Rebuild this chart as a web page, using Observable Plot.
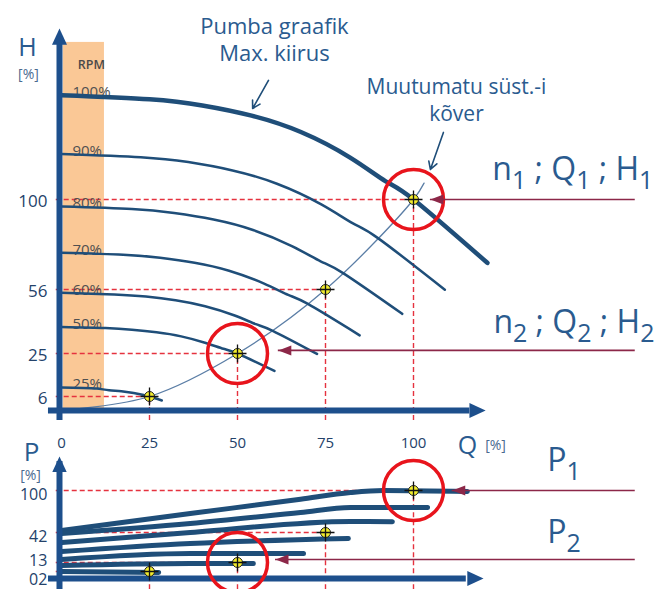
<!DOCTYPE html>
<html><head><meta charset="utf-8">
<script src="https://cdn.jsdelivr.net/npm/d3@7"></script>
<script src="https://cdn.jsdelivr.net/npm/@observablehq/plot@0.6"></script>
<style>
html,body{margin:0;padding:0;background:#fff;}
#chart{position:relative;width:657px;height:589px;overflow:hidden;background:#fff;}
#chart svg{position:absolute;left:0;top:0;}
</style></head><body><div id="chart"></div>
<script>
// ---- data ----
const qTicks = [0, 25, 50, 75, 100];
const hTicks = [100, 56, 25, 6];
const pTicks = [100, 42, 13, 2];
const pTickLabels = ["100", "42", "13", "02"];
const opQ = [25, 50, 75, 100];
const opH = [6, 25, 56, 100];
const opP = [2, 13, 42, 100];
const rpmLabels = ["100%", "90%", "80%", "70%", "60%", "50%", "25%"];
// head curves [Q, H]
const headMax = [[0,151],[25,149],[40,146],[54,141],[68,133],[82,120.5],[92,109],[100,100],[121,69]];
const head90 = [[0,122.3],[22.5,120.7],[36,118.3],[48.6,114.2],[61.2,107.7],[73.8,97.6],[82.8,88.3],[90,81],[108.9,55.9]];
const head80 = [[0,96.6],[20,95.4],[32,93.4],[43.2,90.2],[54.4,85.1],[65.6,77.1],[73.6,69.8],[80,64],[96.8,44.2]];
const head70 = [[0,74],[17.5,73],[28,71.5],[37.8,69.1],[47.6,65.2],[57.4,59],[64.4,53.4],[70,49],[84.7,33.8]];
const head60 = [[0,54.4],[15,53.6],[24,52.6],[32.4,50.8],[40.8,47.9],[49.2,43.4],[55.2,39.2],[60,36],[72.6,24.8]];
const head50 = [[0,37.8],[12.5,37.3],[20,36.5],[27,35.25],[34,33.3],[41,30.1],[46,27.3],[50,25],[60.5,17.3]];
const head25 = [[0,10],[6.25,9.8],[10,9.5],[13.5,8.8],[17,8.3],[20.5,7.5],[23,6.8],[25,6],[28.5,4.3]];
const systemCurve = [[0,0],[25,6],[50,25],[75,56],[100,100],[103,108]];
// power curves [Q, P]
const pow100 = [[0,44.9],[36.6,68.2],[67.9,88],[82.1,97.2],[91.5,100],[115.3,98.6]];
const pow90 = [[0,41],[36.6,54.4],[67.9,69.6],[82.1,76.5],[104,76.5]];
const pow80 = [[0,32.3],[36.6,42],[82.1,57.2],[94,57]];
const pow70 = [[0,23.6],[36.6,31.4],[81.5,36.2]];
const pow60 = [[0,15.9],[36.6,21.7],[68.75,21.7]];
const pow50 = [[0,9.3],[36.6,11.8],[54.5,11.8]];
const pow25 = [[0,2],[27.6,1.7]];

// ---- build ----
const ops = opQ.map((q, i) => ({Q: q, H: opH[i], P: opP[i]}));
const hot = ops.filter(d => d.Q === 50 || d.Q === 100);
const headAll = [headMax, head90, head80, head70, head60, head50, head25];
const headThin = [head90, head80, head70, head60, head50, head25];
const powAll = [pow100, pow90, pow80, pow70, pow60, pow50, pow25];
const pLabel = new Map(pTicks.map((t, i) => [t, pTickLabels[i]]));

// schematic (piecewise) value axes
const hAxis = d3.scaleLinear().domain([0, 6, 25, 56, 100]).range([410, 396, 353, 289, 199]);
const pAxis = d3.scaleLinear().domain([0, 2, 13, 42, 100]).range([578, 571, 562, 532, 490]);

const red = "#e5323f", navy = "#1f4e79", axisBlue = "#1d4f8c", maroon = "#8c2748",
      txt = "#2a5b8f", tickCol = "#24426a", ring = "#e8141c";
const FONT = "'Open Sans', sans-serif";

const plusSym = {draw(ctx, size){const s=Math.sqrt(size/Math.PI);ctx.moveTo(-s,0);ctx.lineTo(s,0);ctx.moveTo(0,-s);ctx.lineTo(0,s);}};
const makeHead = (lk, wk) => ({draw(ctx, size){const s=Math.sqrt(size/Math.PI);ctx.moveTo(0,0);ctx.lineTo(lk*s,-wk*s);ctx.lineTo(lk*s,wk*s);ctx.closePath();}});
const headAxis = makeHead(1.3, 0.6);
const headThinArrow = makeHead(1.3, 0.5);
const X = d => d[0], Y = d => d[1];
const dash = {stroke: red, strokeWidth: 1.4, strokeDasharray: "5,3"};
const pTickText = {x: -4, y: d => d, text: d => pLabel.get(d), textAnchor: "end", fontSize: 16, fill: tickCol};

const common = {
  width: 657, height: 589, marginTop: 0, marginRight: 0,
  style: {background: "transparent", fontFamily: FONT, overflow: "visible"}
};

const topPlot = Plot.plot({
  ...common, marginLeft: 59, marginBottom: 179,
  x: {domain: [0, 100], range: [61, 413]},
  y: {transform: hAxis, domain: [0, 589], range: [0, 589], axis: null},
  marks: [
    Plot.rect([0], {x1: 0.5, x2: 12.2, y1: 0, y2: 176.8, fill: "#fac896"}),
    Plot.ruleY(ops, {y: "H", x1: -1.5, x2: "Q", ...dash}),
    Plot.ruleX(ops, {x: "Q", y1: -4.3, y2: "H", ...dash}),
    Plot.text(rpmLabels, {x: 3.1, y: (d, i) => headAll[i][0][1], text: d => d, textAnchor: "start", lineAnchor: "bottom", dy: 2, fontSize: 15, fill: "#505050"}),
    Plot.line(systemCurve, {x: X, y: Y, curve: "catmull-rom", stroke: "#5b7ea6", strokeWidth: 1.3}),
    ...headThin.map(c => Plot.line(c, {x: X, y: Y, curve: "natural", stroke: navy, strokeWidth: 2.5})),
    Plot.line(headMax, {x: X, y: Y, curve: "natural", stroke: navy, strokeWidth: 4.5}),
    // axes
    Plot.ruleX([-0.57], {x: d => d, y1: -4.3, y2: 176, stroke: axisBlue, strokeWidth: 6}),
    Plot.dot([0], {x: -0.57, y: 183.6, symbol: headAxis, r: 12.5, fill: axisBlue, stroke: "none", rotate: 90}),
    Plot.ruleY([0], {y: d => d, x1: -3.7, x2: 116, stroke: axisBlue, strokeWidth: 6}),
    Plot.dot([0], {x: 120.5, y: 0, symbol: headAxis, r: 12.5, fill: axisBlue, stroke: "none", rotate: 180}),
    // highlight rings and markers
    Plot.dot(hot, {x: "Q", y: "H", r: 30, stroke: ring, strokeWidth: 3.5, fill: "none"}),
    Plot.dot(ops, {x: "Q", y: "H", r: 5, fill: "#f2ec2e", stroke: "#222", strokeWidth: 1}),
    Plot.dot(ops, {x: "Q", y: "H", r: 9, symbol: plusSym, fill: "none", stroke: "#111", strokeWidth: 1.3}),
    // arrows from the right
    Plot.ruleY([opH[3]], {y: d => d, x1: 104.8, x2: 163, stroke: maroon, strokeWidth: 1.6}),
    Plot.dot([opH[3]], {x: 104.8, y: d => d, symbol: headThinArrow, r: 10, fill: maroon, stroke: "none"}),
    Plot.ruleY([26.5], {y: d => d, x1: 61.6, x2: 163, stroke: maroon, strokeWidth: 1.6}),
    Plot.dot([26.5], {x: 61.6, y: d => d, symbol: headThinArrow, r: 10, fill: maroon, stroke: "none"}),
    // annotation arrows
    Plot.arrow([0], {x1: 58.8, y1: 158.2, x2: 54.3, y2: 144.5, stroke: navy, strokeWidth: 1.6, headLength: 8}),
    Plot.arrow([0], {x1: 108.5, y1: 132.8, x2: 104.8, y2: 114.7, stroke: navy, strokeWidth: 1.6, headLength: 8}),
    // texts
    Plot.text(["H"], {x: -9.7, y: 170.4, text: d => d, lineAnchor: "bottom", fontSize: 25, fill: txt}),
    Plot.text(["[%]"], {x: -9.4, y: 161.1, text: d => d, fontSize: 14, fill: "#4a6a90"}),
    Plot.text(["RPM"], {x: 8.5, y: 166, text: d => d, fontSize: 12.5, fontWeight: 600, fill: "#4a4a4a"}),
    Plot.text(["Pumba graafik\nMax. kiirus"], {x: 60.5, y: 178.7, text: d => d, fontSize: 22, lineHeight: 1.25, fill: txt}),
    Plot.text(["Muutumatu süst.-i\nkõver"], {x: 112.2, y: 149.4, text: d => d, fontSize: 21, lineHeight: 1.3, fill: txt}),
    Plot.text(["n_1 ; Q_1 ; H_1"], {x: 122.4, y: 109.3, text: d => d, textAnchor: "start", lineAnchor: "bottom", fontSize: 32, fill: txt}),
    Plot.text(["n_2 ; Q_2 ; H_2"], {x: 122.7, y: 34.7, text: d => d, textAnchor: "start", lineAnchor: "bottom", fontSize: 32, fill: txt}),
    Plot.text(["Q"], {x: 115.3, y: -15.4, text: d => d, fontSize: 25, fill: txt}),
    Plot.text(["[%]"], {x: 123.3, y: -15, text: d => d, fontSize: 14, fill: "#4a6a90"}),
    Plot.axisX({ticks: qTicks, tickSize: 0, tickPadding: 27, fontSize: 15, color: tickCol, label: null}),
    Plot.text(hTicks, {x: -4, y: d => d, text: d => String(d), textAnchor: "end", dy: 2, fontSize: 17, fill: tickCol})
  ]
});

const bottomPlot = Plot.plot({
  ...common, marginLeft: 59, marginBottom: 11,
  x: {domain: [0, 100], range: [61, 413], axis: null},
  y: {transform: pAxis, domain: [0, 589], range: [0, 589], axis: null},
  marks: [
    Plot.ruleY(ops, {y: "P", x1: -1.5, x2: "Q", ...dash}),
    Plot.ruleX(ops, {x: "Q", y1: -3.2, y2: "P", ...dash}),
    ...powAll.map(c => Plot.line(c, {x: X, y: Y, curve: "monotone-x", stroke: navy, strokeWidth: 5})),
    Plot.ruleX([-0.57], {x: d => d, y1: -3.2, y2: 140, stroke: axisBlue, strokeWidth: 6}),
    Plot.dot([0], {x: -0.57, y: 147, symbol: headAxis, r: 12, fill: axisBlue, stroke: "none", rotate: 90}),
    Plot.ruleY([0], {y: d => d, x1: -3.7, x2: 115, stroke: axisBlue, strokeWidth: 6}),
    Plot.dot([0], {x: 119.9, y: 0, symbol: headAxis, r: 12.5, fill: axisBlue, stroke: "none", rotate: 180}),
    Plot.dot(hot, {x: "Q", y: "P", r: 30, stroke: ring, strokeWidth: 3.5, fill: "none"}),
    Plot.dot(ops, {x: "Q", y: "P", r: 5, fill: "#f2ec2e", stroke: "#222", strokeWidth: 1}),
    Plot.dot(ops, {x: "Q", y: "P", r: 9, symbol: plusSym, fill: "none", stroke: "#111", strokeWidth: 1.3}),
    Plot.ruleY([opP[3]], {y: d => d, x1: 111, x2: 163, stroke: maroon, strokeWidth: 1.6}),
    Plot.dot([opP[3]], {x: 111, y: d => d, symbol: headThinArrow, r: 10, fill: maroon, stroke: "none"}),
    Plot.ruleY([15.9], {y: d => d, x1: 60.8, x2: 163, stroke: maroon, strokeWidth: 1.6}),
    Plot.dot([15.9], {x: 60.8, y: d => d, symbol: headThinArrow, r: 10, fill: maroon, stroke: "none"}),
    Plot.text(["P"], {x: -8.5, y: 141.4, text: d => d, lineAnchor: "bottom", fontSize: 26, fill: txt}),
    Plot.text(["[%]"], {x: -8.8, y: 121, text: d => d, fontSize: 14, fill: "#4a6a90"}),
    Plot.text(["P_1"], {x: 138, y: 127.6, text: d => d, textAnchor: "start", lineAnchor: "bottom", fontSize: 32, fill: txt}),
    Plot.text(["P_2"], {x: 138, y: 31.4, text: d => d, textAnchor: "start", lineAnchor: "bottom", fontSize: 32, fill: txt}),
    Plot.text(pTicks.filter(t => t >= 42), {...pTickText, dy: 4}),
    Plot.text(pTicks.filter(t => t === 13), {...pTickText, dy: -2}),
    Plot.text(pTicks.filter(t => t < 13), {...pTickText, dy: 8})
  ]
});

function subscripts(svg) {
  const NS = "http://www.w3.org/2000/svg";
  svg.querySelectorAll("text").forEach(t => {
    const s = t.textContent;
    if (!s.includes("_")) return;
    const parts = s.split(/_(\d)/);
    while (t.firstChild) t.removeChild(t.firstChild);
    let shifted = false;
    parts.forEach((p, i) => {
      if (!p) return;
      const ts = document.createElementNS(NS, "tspan");
      ts.textContent = p;
      if (i % 2 === 1) { ts.setAttribute("font-size", "0.78em"); ts.setAttribute("dy", "9"); shifted = true; }
      else if (shifted) { ts.setAttribute("dy", "-9"); shifted = false; }
      t.appendChild(ts);
    });
  });
}
subscripts(topPlot);
subscripts(bottomPlot);
const chart = document.getElementById("chart");
chart.appendChild(topPlot);
chart.appendChild(bottomPlot);
</script></body></html>
